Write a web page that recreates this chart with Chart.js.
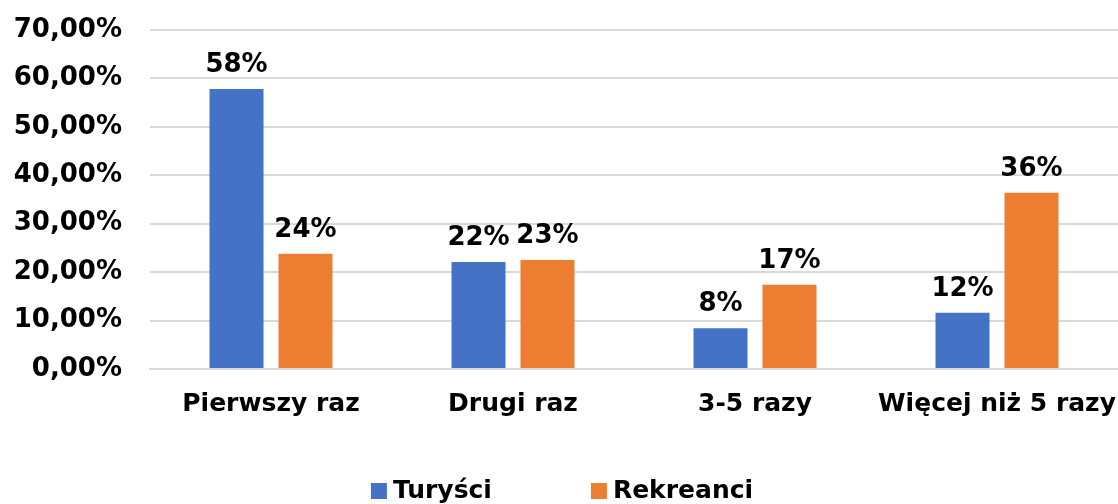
<!DOCTYPE html>
<html>
<head>
<meta charset="utf-8">
<script src="https://cdn.jsdelivr.net/npm/chart.js@4.4.0/dist/chart.umd.min.js"></script>
<style>
    body { margin: 0; background: #fff; }
    #wrap { width: 1118px; height: 504px; position: relative; }
</style>
</head>
<body>
<div id="wrap"><canvas id="chart"></canvas></div>
<script>
// data
const categories = ['Pierwszy raz', 'Drugi raz', '3-5 razy', 'Więcej niż 5 razy'];
const turysci = [57.8, 22.1, 8.4, 11.6];
const rekreanci = [23.8, 22.5, 17.4, 36.4];
const seriesNames = ['Turyści', 'Rekreanci'];

const FONT = "'DejaVu Sans', Verdana, sans-serif";

//labels on top of bars
const barLabels = {
    id: 'barLabels',
    afterDatasetsDraw(chart) {
        const ctx = chart.ctx;
        ctx.save();
        ctx.font = 'bold 26px ' + FONT;
        ctx.fillStyle = '#000';
        ctx.textAlign = 'center';
        ctx.textBaseline = 'alphabetic';
        chart.data.datasets.forEach((ds, i) => {
            chart.getDatasetMeta(i).data.forEach((bar, j) => {
                ctx.fillText(Math.round(ds.data[j]) + '%', bar.x, bar.y - 17);
            });
        });
        ctx.restore();
    }
};

//legend at the bottom, wide gap between items
const bottomLegend = {
    id: 'bottomLegend',
    afterDraw(chart) {
        const ctx = chart.ctx;
        const box = 16, gapText = 6, gapItem = 99;
        ctx.save();
        ctx.font = 'bold 25px ' + FONT;
        const items = chart.data.datasets.map(ds => ({
            text: ds.label,
            color: ds.backgroundColor,
            w: box + gapText + ctx.measureText(ds.label).width
        }));
        let total = items.reduce((s, it) => s + it.w, 0) + gapItem * (items.length - 1);
        let x = (chart.width - total) / 2 + 3;
        const y = 491;
        items.forEach(it => {
            ctx.fillStyle = it.color;
            ctx.fillRect(x, y - box / 2, box, box);
            ctx.fillStyle = '#000';
            ctx.textBaseline = 'middle';
            ctx.textAlign = 'left';
            ctx.fillText(it.text, x + box + gapText, y);
            x += it.w + gapItem;
        });
        ctx.restore();
    }
};

const chart = new Chart(document.getElementById('chart'), {
    type: 'bar',
    data: {
        labels: categories,
        datasets: [{
            label: seriesNames[0],
            data: turysci,
            backgroundColor: '#4472C4',
            categoryPercentage: 0.57,
            barPercentage: 0.783,
        }, {
            label: seriesNames[1],
            data: rekreanci,
            backgroundColor: '#ED7D31',
            categoryPercentage: 0.57,
            barPercentage: 0.783,
        }]
    },
    options: {
        responsive: true,
        maintainAspectRatio: false,
        animation: false,
        layout: {
            padding: { top: 30, right: 0, bottom: 0, left: 0 }
        },
        plugins: {
            legend: { display: false },
            tooltip: { enabled: false }
        },
        scales: {
            x: {
                grid: { display: false, drawTicks: false },
                border: { color: '#d9d9d9', width: 2 },
                ticks: {
                    color: '#000',
                    font: { family: FONT, size: 25, weight: 'bold' },
                    padding: 20,
                    maxRotation: 0,
                    autoSkip: false
                },
                afterFit(scale) {
                    scale.height = 135;
                    scale.paddingLeft = 0;
                    scale.paddingRight = 0;
                }
            },
            y: {
                min: 0,
                max: 70,
                grid: { color: '#d9d9d9', lineWidth: 2, drawTicks: false },
                border: { display: false },
                ticks: {
                    stepSize: 10,
                    color: '#000',
                    padding: 28,
                    font: { family: FONT, size: 26, weight: 'bold' },
                    callback: v => v.toFixed(2).replace('.', ',') + '%'
                },
                afterFit(scale) {
                    scale.width = 150;
                    scale.paddingTop = 0;
                    scale.paddingBottom = 0;
                }
            }
        }
    },
    plugins: [barLabels, bottomLegend]
});
</script>
</body>
</html>
